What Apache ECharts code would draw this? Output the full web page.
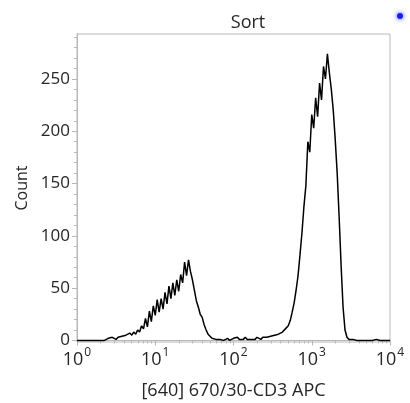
<!DOCTYPE html>
<html><head><meta charset="utf-8">
<script src="https://cdn.jsdelivr.net/npm/echarts@6/dist/echarts.min.js"></script>
<style>html,body{margin:0;padding:0;background:#fff}#c{width:410px;height:403px}</style>
</head><body><div id="c"></div>
<script>
const titleText = 'Sort';
const xAxisTitle = '[640] 670/30-CD3 APC';
const yAxisTitle = 'Count';
const decadeExponents = [0, 1, 2, 3, 4];
const yTickLabels = [0, 50, 100, 150, 200, 250];
const yMinorTicks = [10,20,30,40,60,70,80,90,110,120,130,140,160,170,180,190,210,220,230,240,260,270,280,290];
const binLogStart = 0;
const binLogWidth = 0.025;
const counts = [
  0,0,0,0,0,0,0,0,0,0,0,0,0,0,0,
  1,2,1,3,2,1,3,2,4,3,5,4,7,5,8,6,10,8,14,11,
  21,13,28,18,33,24,39,27,40,30,46,35,52,40,55,43,58,47,63,55,
  75,62,77,66,58,48,38,32,25,22,15,10,6,4,2,3,1,2,1,2,
  0,1,2,0,1,2,1,3,1,2,1,3,1,2,1,2,1,3,2,1,
  3,2,3,2,4,3,5,4,6,5,8,9,12,14,19,27,36,48,62,82,
  103,128,148,190,180,216,203,232,214,246,230,262,250,274,256,240,220,192,160,118,
  72,32,10,3,1,0,1,0,0,1,0,0,0,1,0,0,0,0,1,0,0,0,0,0,0,0
];

const FONT = 'Open Sans';
const GRAY = '#b8b8b8';
const TXT = '#262626';

const seriesData = counts.map((c, i) => [binLogStart + i * binLogWidth, c]);
const xMinor = [];
decadeExponents.slice(0, -1).forEach(d => { for (let k = 2; k <= 9; k++) xMinor.push(d + Math.log10(k)); });

const chart = echarts.init(document.getElementById('c'), null, {renderer: 'canvas'});
chart.setOption({
  animation: false,
  backgroundColor: '#fff',
  title: {
    text: titleText, left: 243, top: 9, textAlign: 'center',
    textStyle: {fontFamily: FONT, fontSize: 18, fontWeight: 'normal', color: TXT}
  },
  grid: {left: 77, right: 20, top: 34, bottom: 61, show: true, borderColor: GRAY, borderWidth: 1,
         containLabel: false, outerBoundsMode: 'none'},
  xAxis: [{
    type: 'value', min: 0, max: 4, interval: 1,
    name: xAxisTitle, nameLocation: 'middle', nameGap: 40,
    nameTextStyle: {fontFamily: FONT, fontSize: 18, color: TXT},
    axisLine: {show: true, lineStyle: {color: GRAY}},
    axisTick: {show: true, length: 5, lineStyle: {color: GRAY}},
    splitLine: {show: false},
    axisLabel: {
      margin: 5, fontFamily: FONT, color: TXT,
      formatter: v => '{b|10}{s|' + v + '}',
      rich: {
        b: {fontFamily: FONT, fontSize: 18, color: TXT, lineHeight: 22, verticalAlign: 'bottom'},
        s: {fontFamily: FONT, fontSize: 12, color: TXT, lineHeight: 22, verticalAlign: 'top', padding: [0,0,0,1]}
      }
    }
  }, {
    type: 'value', min: 0, max: 4, position: 'bottom',
    axisLine: {show: false},
    axisTick: {show: true, length: 3, customValues: xMinor, lineStyle: {color: GRAY}},
    axisLabel: {show: false}, splitLine: {show: false}
  }],
  yAxis: [{
    type: 'value', min: -1.5, max: 293,
    name: yAxisTitle, nameLocation: 'middle', nameGap: 47, nameRotate: 90,
    nameTextStyle: {fontFamily: FONT, fontSize: 16, color: TXT},
    axisLine: {show: true, lineStyle: {color: GRAY}},
    axisTick: {show: true, length: 5, customValues: yTickLabels, lineStyle: {color: GRAY}},
    axisLabel: {customValues: yTickLabels, margin: 7, fontFamily: FONT, fontSize: 17, color: TXT},
    splitLine: {show: false}
  }, {
    type: 'value', min: -1.5, max: 293, position: 'left',
    axisLine: {show: false},
    axisTick: {show: true, length: 3, customValues: yMinorTicks, lineStyle: {color: GRAY}},
    axisLabel: {show: false}, splitLine: {show: false}
  }],
  series: [{
    type: 'line', xAxisIndex: 0, yAxisIndex: 0,
    data: seriesData, showSymbol: false, clip: true,
    lineStyle: {color: '#000', width: 1.5}
  }],
  graphic: [{
    type: 'circle', shape: {cx: 400, cy: 16, r: 3},
    style: {fill: '#1a1aff', shadowBlur: 5, shadowColor: 'rgba(40,40,255,0.9)'}
  }]
});
</script></body></html>
